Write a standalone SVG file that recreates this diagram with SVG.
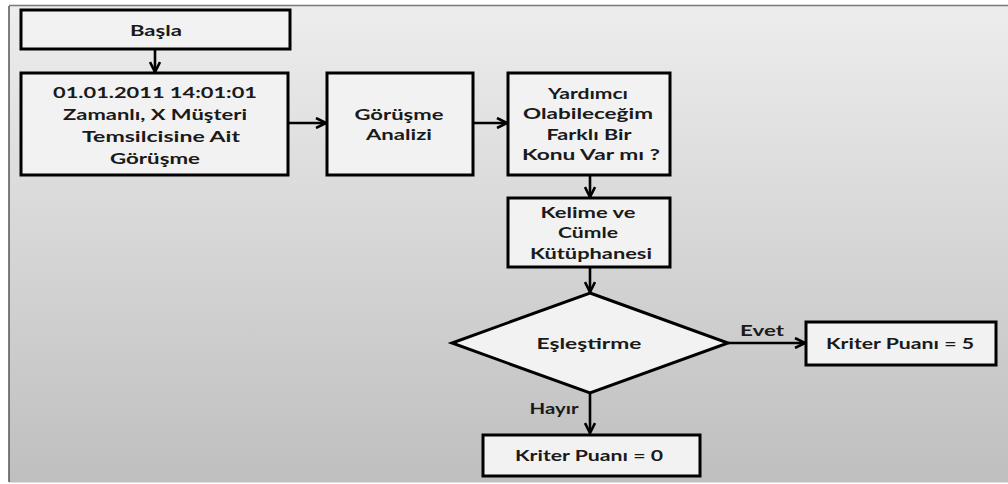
<svg xmlns="http://www.w3.org/2000/svg" width="1008" height="484" viewBox="0 0 1008 484">
  <defs>
    <linearGradient id="bg" x1="0" y1="0" x2="0" y2="1">
      <stop offset="0" stop-color="#ededed"/>
      <stop offset="1" stop-color="#bfbfbf"/>
    </linearGradient>
    <marker id="arrow" viewBox="0 0 12 12" refX="11" refY="6" markerWidth="12" markerHeight="12" markerUnits="userSpaceOnUse" orient="auto">
      <path d="M1,1 L11,6 L1,11" fill="none" stroke="#000" stroke-width="2.6" stroke-linejoin="miter"/>
    </marker>
  </defs>
  <style>
    .box { fill: #f2f2f2; stroke: #000; stroke-width: 3; }
    .lbl { font-family: Lato, "Open Sans", "Liberation Sans", sans-serif; font-weight: bold; font-size: 16px; fill: #1a1a1a; text-anchor: middle; }
    .edge { fill: none; stroke: #000; stroke-width: 2.6; marker-end: url(#arrow); }
  </style>

  <!-- panel -->
  <rect x="0" y="0" width="1008" height="484" fill="#ffffff"/>
  <rect x="9" y="6" width="1002" height="476" fill="url(#bg)"/>
  <line x1="9" y1="5.5" x2="1008" y2="5.5" stroke="#7a7a7a" stroke-width="1.5"/>
  <line x1="9" y1="6" x2="9" y2="482" stroke="#555" stroke-width="1.5"/>
  <line x1="9" y1="482.5" x2="1008" y2="482.5" stroke="#e0e0e0" stroke-width="1"/>

  <g id="connectors">
    <line class="edge" x1="155" y1="49" x2="155" y2="72"/>
    <line class="edge" x1="288" y1="123" x2="326" y2="123"/>
    <line class="edge" x1="473" y1="123" x2="507" y2="123"/>
    <line class="edge" x1="590" y1="175" x2="590" y2="197"/>
    <line class="edge" x1="590" y1="267" x2="590" y2="292"/>
    <line class="edge" x1="728" y1="343" x2="805" y2="343"/>
    <line class="edge" x1="590" y1="393" x2="590" y2="433"/>
    <text class="lbl" x="762" y="336" textLength="44" lengthAdjust="spacingAndGlyphs">Evet</text>
    <text class="lbl" x="554" y="414" textLength="49" lengthAdjust="spacingAndGlyphs">Hayır</text>
  </g>

  <g id="start">
    <rect class="box" x="21" y="10" width="269" height="39"/>
    <text class="lbl" x="156" y="36" textLength="52" lengthAdjust="spacingAndGlyphs">Başla</text>
  </g>

  <g id="conversation">
    <rect class="box" x="21" y="73" width="267" height="102"/>
    <text class="lbl" x="155" y="98" textLength="204" lengthAdjust="spacingAndGlyphs">01.01.2011 14:01:01</text>
    <text class="lbl" x="155" y="120" textLength="184" lengthAdjust="spacingAndGlyphs">Zamanlı, X Müşteri</text>
    <text class="lbl" x="161" y="142" textLength="158" lengthAdjust="spacingAndGlyphs">Temsilcisine Ait</text>
    <text class="lbl" x="155" y="164" textLength="90" lengthAdjust="spacingAndGlyphs">Görüşme</text>
  </g>

  <g id="analysis">
    <rect class="box" x="327" y="73" width="146" height="102"/>
    <text class="lbl" x="399" y="120" textLength="89" lengthAdjust="spacingAndGlyphs">Görüşme</text>
    <text class="lbl" x="399" y="140" textLength="66" lengthAdjust="spacingAndGlyphs">Analizi</text>
  </g>

  <g id="question">
    <rect class="box" x="508" y="73" width="162" height="102"/>
    <text class="lbl" x="588" y="99" textLength="80" lengthAdjust="spacingAndGlyphs">Yardımcı</text>
    <text class="lbl" x="588" y="119" textLength="130" lengthAdjust="spacingAndGlyphs">Olabileceğim</text>
    <text class="lbl" x="589" y="140" textLength="85" lengthAdjust="spacingAndGlyphs">Farklı Bir</text>
    <text class="lbl" x="591" y="160" textLength="138" lengthAdjust="spacingAndGlyphs">Konu Var mı ?</text>
  </g>

  <g id="library">
    <rect class="box" x="508" y="198" width="162" height="69"/>
    <text class="lbl" x="588" y="218" textLength="95" lengthAdjust="spacingAndGlyphs">Kelime ve</text>
    <text class="lbl" x="588" y="238" textLength="60" lengthAdjust="spacingAndGlyphs">Cümle</text>
    <text class="lbl" x="591" y="259" textLength="122" lengthAdjust="spacingAndGlyphs">Kütüphanesi</text>
  </g>

  <g id="match">
    <polygon points="590,293 728,343 590,393 452,343" fill="#f2f2f2" stroke="#000" stroke-width="3" stroke-linejoin="miter"/>
    <text class="lbl" x="589" y="349" textLength="105" lengthAdjust="spacingAndGlyphs">Eşleştirme</text>
  </g>

  <g id="score5">
    <rect class="box" x="806" y="322" width="190" height="43"/>
    <text class="lbl" x="900" y="349" textLength="148" lengthAdjust="spacingAndGlyphs">Kriter Puanı = 5</text>
  </g>

  <g id="score0">
    <rect class="box" x="483" y="435" width="217" height="41"/>
    <text class="lbl" x="589" y="461" textLength="148" lengthAdjust="spacingAndGlyphs">Kriter Puanı = 0</text>
  </g>
</svg>
